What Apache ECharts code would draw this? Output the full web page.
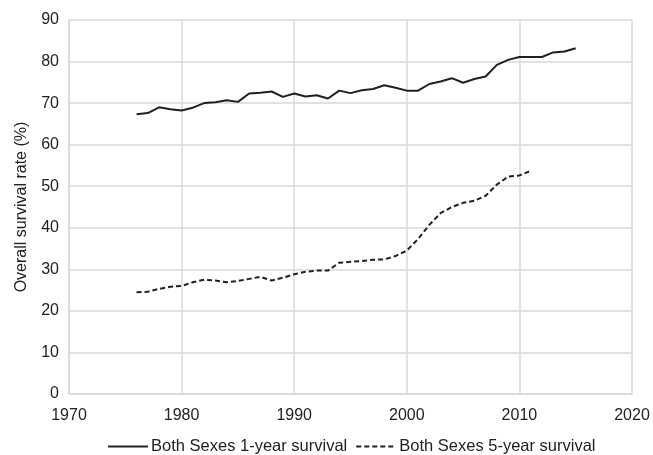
<!DOCTYPE html>
<html>
<head>
<meta charset="utf-8">
<script src="https://cdn.jsdelivr.net/npm/echarts@6/dist/echarts.min.js"></script>
<style>
  html, body { margin: 0; padding: 0; background: #fff; }
  #chart { width: 653px; height: 455px; }
</style>
</head>
<body>
<div id="chart"></div>
<script>
// survival data
const oneYearYears = [1976, 1977, 1978, 1979, 1980, 1981, 1982, 1983, 1984, 1985,
  1986, 1987, 1988, 1989, 1990, 1991, 1992, 1993, 1994, 1995,
  1996, 1997, 1998, 1999, 2000, 2001, 2002, 2003, 2004, 2005,
  2006, 2007, 2008, 2009, 2010, 2011, 2012, 2013, 2014, 2015]
const oneYearSurvival = [67.3, 67.6, 69.0, 68.5, 68.2, 68.9, 70.0, 70.2, 70.7, 70.3,
  72.3, 72.5, 72.8, 71.5, 72.3, 71.6, 71.9, 71.1, 73.0, 72.4,
  73.1, 73.4, 74.3, 73.7, 73.0, 73.0, 74.6, 75.2, 76.0, 74.9,
  75.8, 76.4, 79.2, 80.4, 81.1, 81.1, 81.1, 82.2, 82.4, 83.2]

const fiveYearYears = [1976, 1977, 1978, 1979, 1980, 1981, 1982, 1983, 1984, 1985,
  1986, 1987, 1988, 1989, 1990, 1991, 1992, 1993, 1994, 1995,
  1996, 1997, 1998, 1999, 2000, 2001, 2002, 2003, 2004, 2005,
  2006, 2007, 2008, 2009, 2010, 2011]
const fiveYearSurvival = [24.5, 24.6, 25.3, 25.8, 26.0, 26.9, 27.5, 27.3, 26.9, 27.2,
  27.7, 28.2, 27.3, 28.0, 28.8, 29.4, 29.7, 29.7, 31.6, 31.8,
  32.0, 32.3, 32.4, 33.2, 34.5, 37.3, 40.7, 43.5, 45.0, 46.0,
  46.5, 47.7, 50.4, 52.3, 52.6, 53.7]

const seriesNames = ['Both Sexes 1-year survival', 'Both Sexes 5-year survival']

const pairs = (xs, ys) => xs.map((x, i) => [x, ys[i]])

const chart = echarts.init(document.getElementById('chart'), null, { renderer: 'canvas' })

const font = '"Liberation Sans", Arial, sans-serif'
const gridColor = '#d9d9d9'
const lineColor = '#231f20'
const textColor = '#222'

chart.setOption({
  animation: false,
  textStyle: { fontFamily: font },
  grid: { left: 69, right: 21, top: 20, bottom: 61 },
  legend: {
    top: 433,
    left: 102,
    itemWidth: 40,
    itemHeight: 14,
    itemGap: 8,
    itemStyle: { opacity: 0, borderWidth: 0 },
    textStyle: { fontSize: 16.5, color: textColor, fontFamily: font, padding: [0, 0, 0, -2] },
    data: seriesNames
  },
  xAxis: {
    type: 'value',
    min: 1970,
    max: 2020,
    interval: 10,
    axisLine: { show: true, lineStyle: { color: gridColor, width: 1.5 } },
    axisTick: { show: false },
    axisLabel: {
      color: textColor,
      fontSize: 16,
      margin: 14,
      fontFamily: font,
      formatter: (v) => String(v)
    },
    splitLine: { show: true, lineStyle: { color: gridColor, width: 1.5 } }
  },
  yAxis: {
    type: 'value',
    min: 0,
    max: 90,
    interval: 10,
    name: 'Overall survival rate (%)',
    nameLocation: 'middle',
    nameGap: 39,
    nameTextStyle: { fontSize: 16, color: textColor, fontFamily: font },
    axisLine: { show: true, lineStyle: { color: gridColor, width: 1.5 } },
    axisTick: { show: false },
    axisLabel: { color: textColor, fontSize: 16, margin: 10, fontFamily: font },
    splitLine: { show: true, lineStyle: { color: gridColor, width: 1.5 } }
  },
  series: [
    {
      name: seriesNames[0],
      type: 'line',
      symbol: 'none',
      data: pairs(oneYearYears, oneYearSurvival),
      lineStyle: { color: lineColor, width: 2 },
      itemStyle: { color: lineColor }
    },
    {
      name: seriesNames[1],
      type: 'line',
      symbol: 'none',
      data: pairs(fiveYearYears, fiveYearSurvival),
      lineStyle: { color: lineColor, width: 2, type: [5, 3] },
      itemStyle: { color: lineColor }
    }
  ]
})

window.addEventListener('resize', () => {
  chart.resize()
})
</script>
</body>
</html>
